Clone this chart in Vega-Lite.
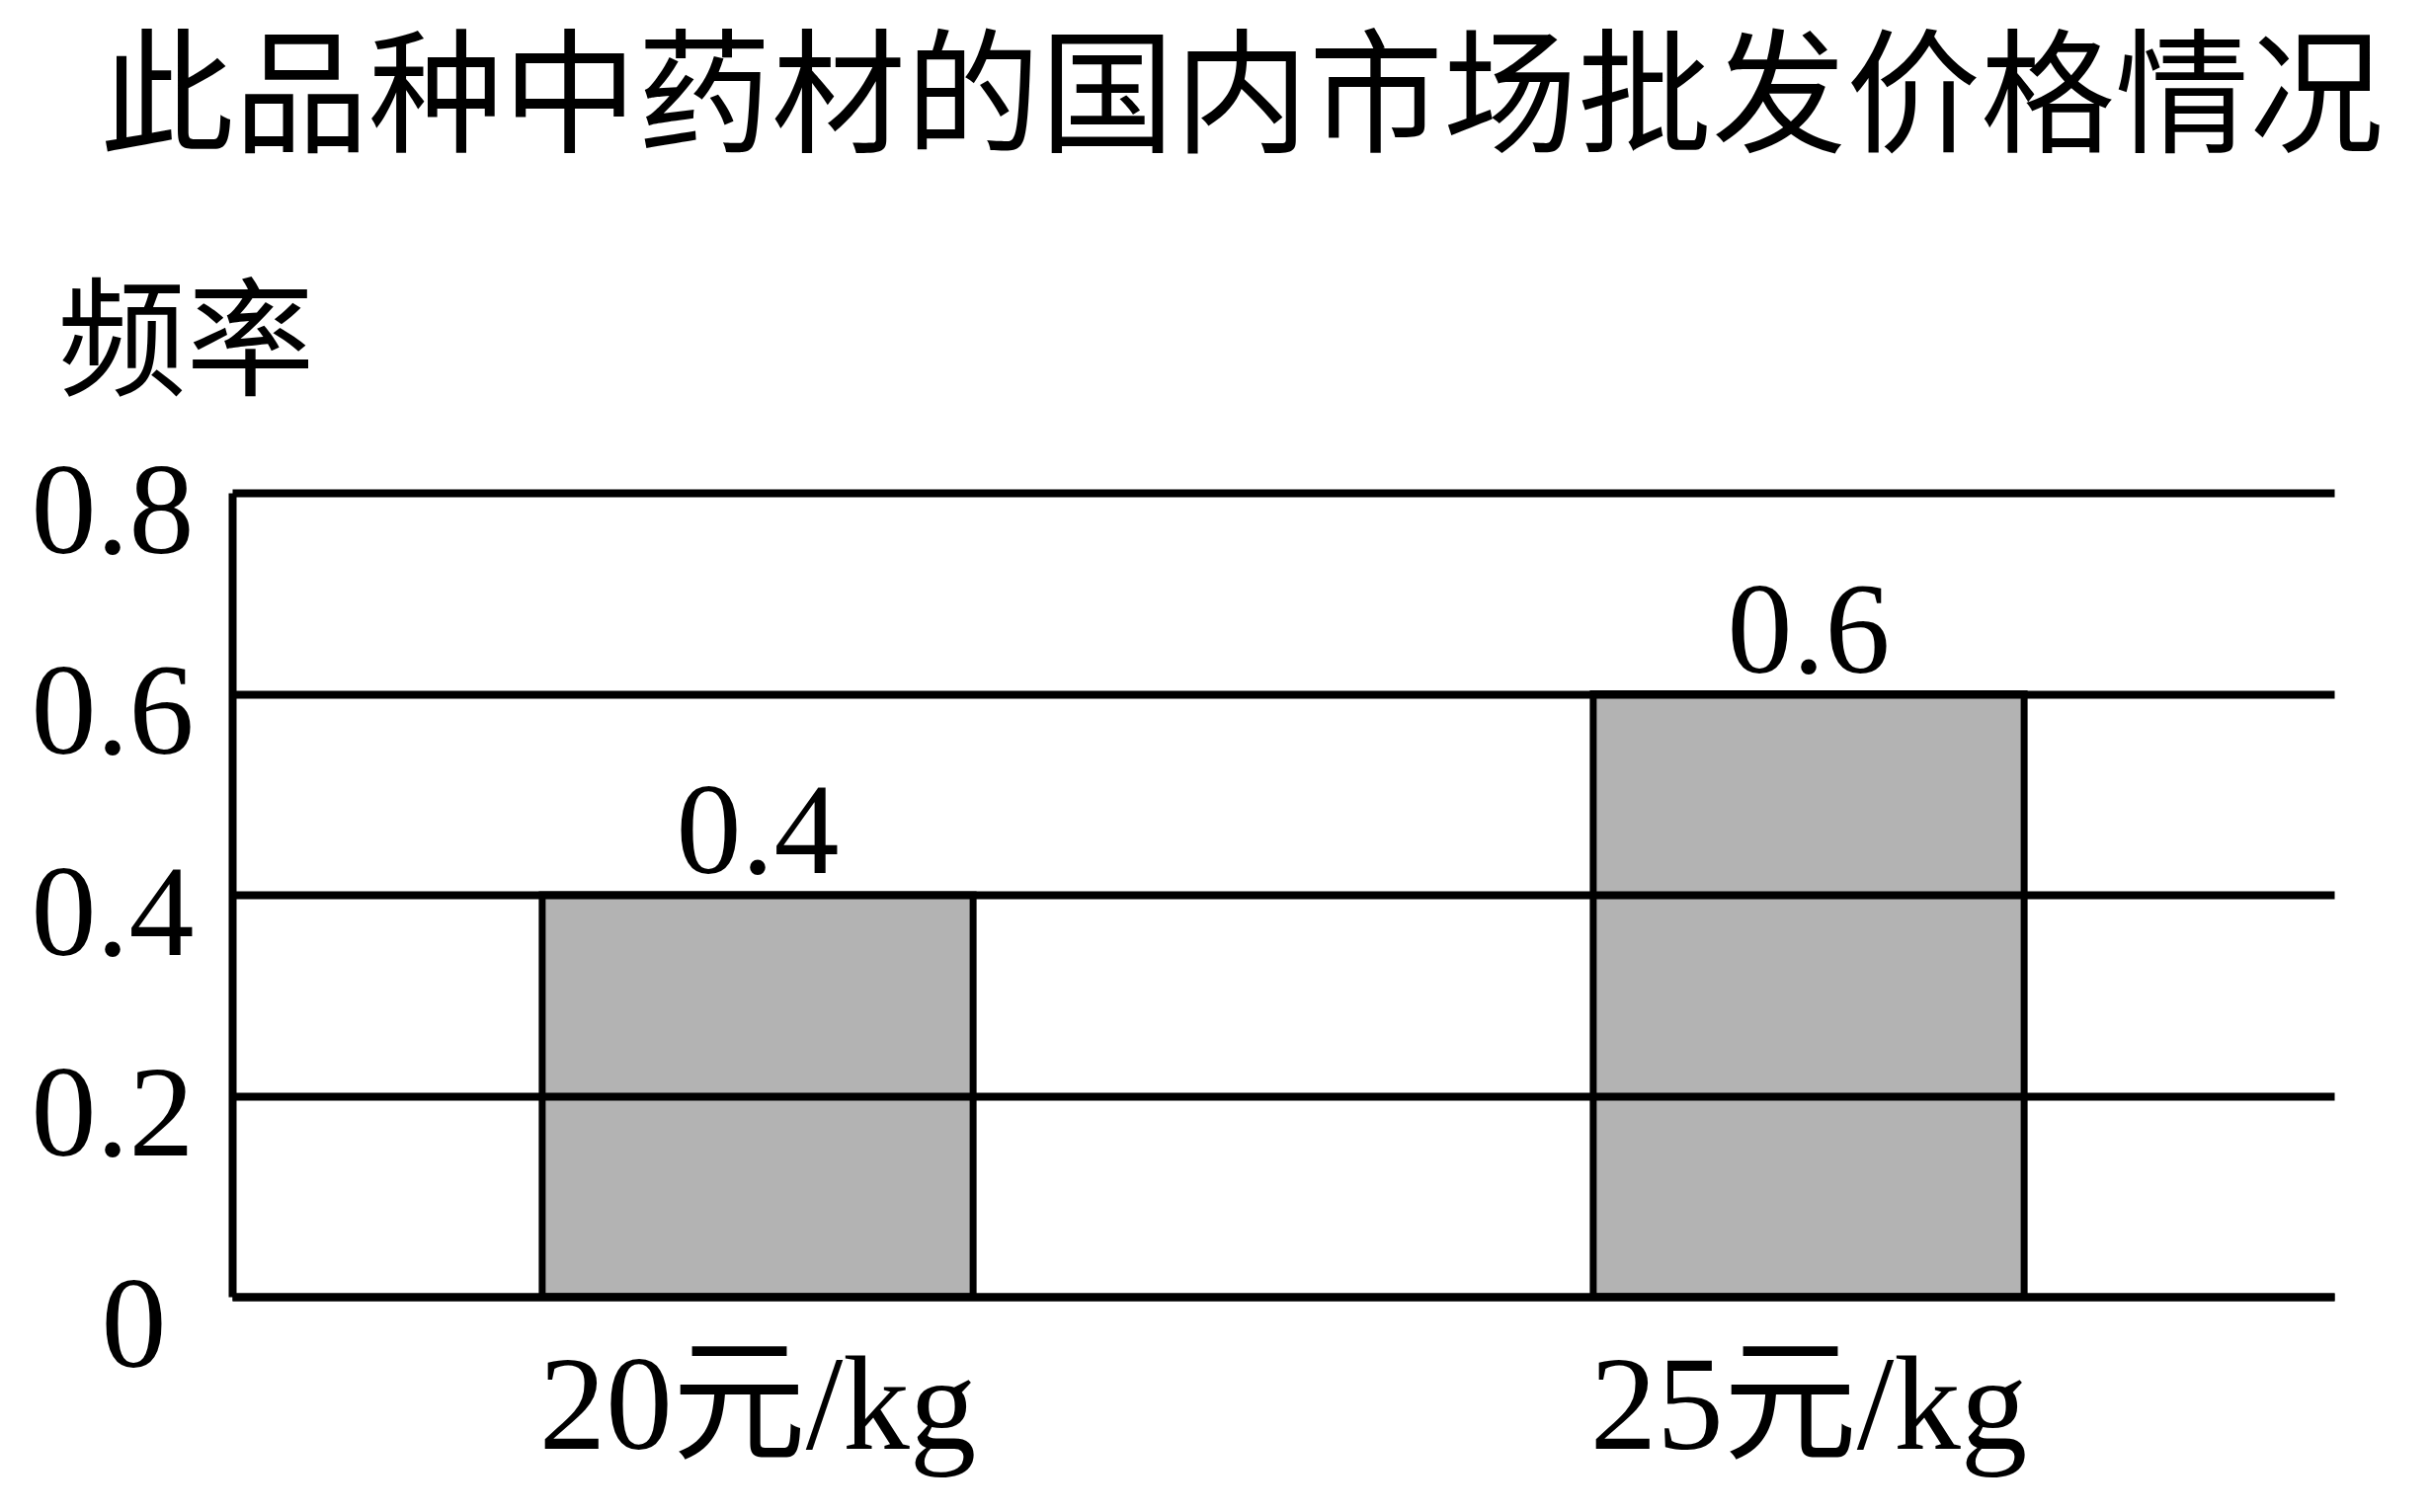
{
  "$schema": "https://vega.github.io/schema/vega-lite/v6.json",
  "autosize": "none",
  "padding": {"left": 235, "top": 499, "right": 99, "bottom": 218},
  "width": 2128,
  "height": 814,
  "background": "white",
  "config": {"view": {"stroke": null}},
  "title": {
    "text": "此品种中药材的国内市场批发价格情况",
    "font": "Noto Sans CJK SC",
    "fontSize": 136,
    "fontWeight": "normal",
    "color": "black",
    "anchor": "middle",
    "frame": "bounds",
    "dx": 60,
    "offset": 112
  },
  "data": {
    "values": [
      {"price": "20元/kg", "freq": 0.4},
      {"price": "25元/kg", "freq": 0.6}
    ]
  },
  "encoding": {
    "x": {
      "field": "price",
      "type": "nominal",
      "sort": null,
      "scale": {"paddingInner": 0, "paddingOuter": 0},
      "axis": {
        "title": null,
        "labelAngle": 0,
        "labelFont": "Liberation Serif, Noto Sans CJK SC",
        "labelFontSize": 135,
        "labelColor": "black",
        "labelPadding": 46,
        "labelLimit": 0,
        "ticks": false,
        "domainColor": "black",
        "domainWidth": 8,
        "zindex": 1
      }
    },
    "y": {
      "field": "freq",
      "type": "quantitative",
      "scale": {"domain": [0, 0.8], "nice": false},
      "axis": {
        "values": [0, 0.2, 0.4, 0.6, 0.8],
        "labelExpr": "datum.value == 0 ? '0' : format(datum.value, '.1f')",
        "labelFont": "Liberation Serif",
        "labelFontSize": 132,
        "labelColor": "black",
        "labelAlign": {"condition": {"test": "datum.value == 0", "value": "center"}, "value": "right"},
        "labelPadding": {"condition": {"test": "datum.value == 0", "value": 100}, "value": 39},
        "labelOffset": {"condition": {"test": "datum.value == 0", "value": 30}, "value": 20},
        "ticks": false,
        "grid": true,
        "gridColor": "black",
        "gridWidth": 8,
        "gridOpacity": 1,
        "domainColor": "black",
        "domainWidth": 8,
        "zindex": 1,
        "title": "频率",
        "titleFont": "Noto Sans CJK SC",
        "titleFontSize": 130,
        "titleFontWeight": "normal",
        "titleColor": "black",
        "titleAngle": 0,
        "titleAlign": "center",
        "titleBaseline": "middle",
        "titleX": -47,
        "titleY": -149
      }
    }
  },
  "layer": [
    {
      "mark": {"type": "bar", "fill": "#b3b3b3", "stroke": "black", "strokeWidth": 7, "width": {"band": 0.41}}
    },
    {
      "mark": {"type": "text", "font": "Liberation Serif", "fontSize": 132, "color": "black", "baseline": "alphabetic", "dy": -22},
      "encoding": {"text": {"field": "freq", "type": "quantitative", "format": ".1f"}}
    }
  ]
}
